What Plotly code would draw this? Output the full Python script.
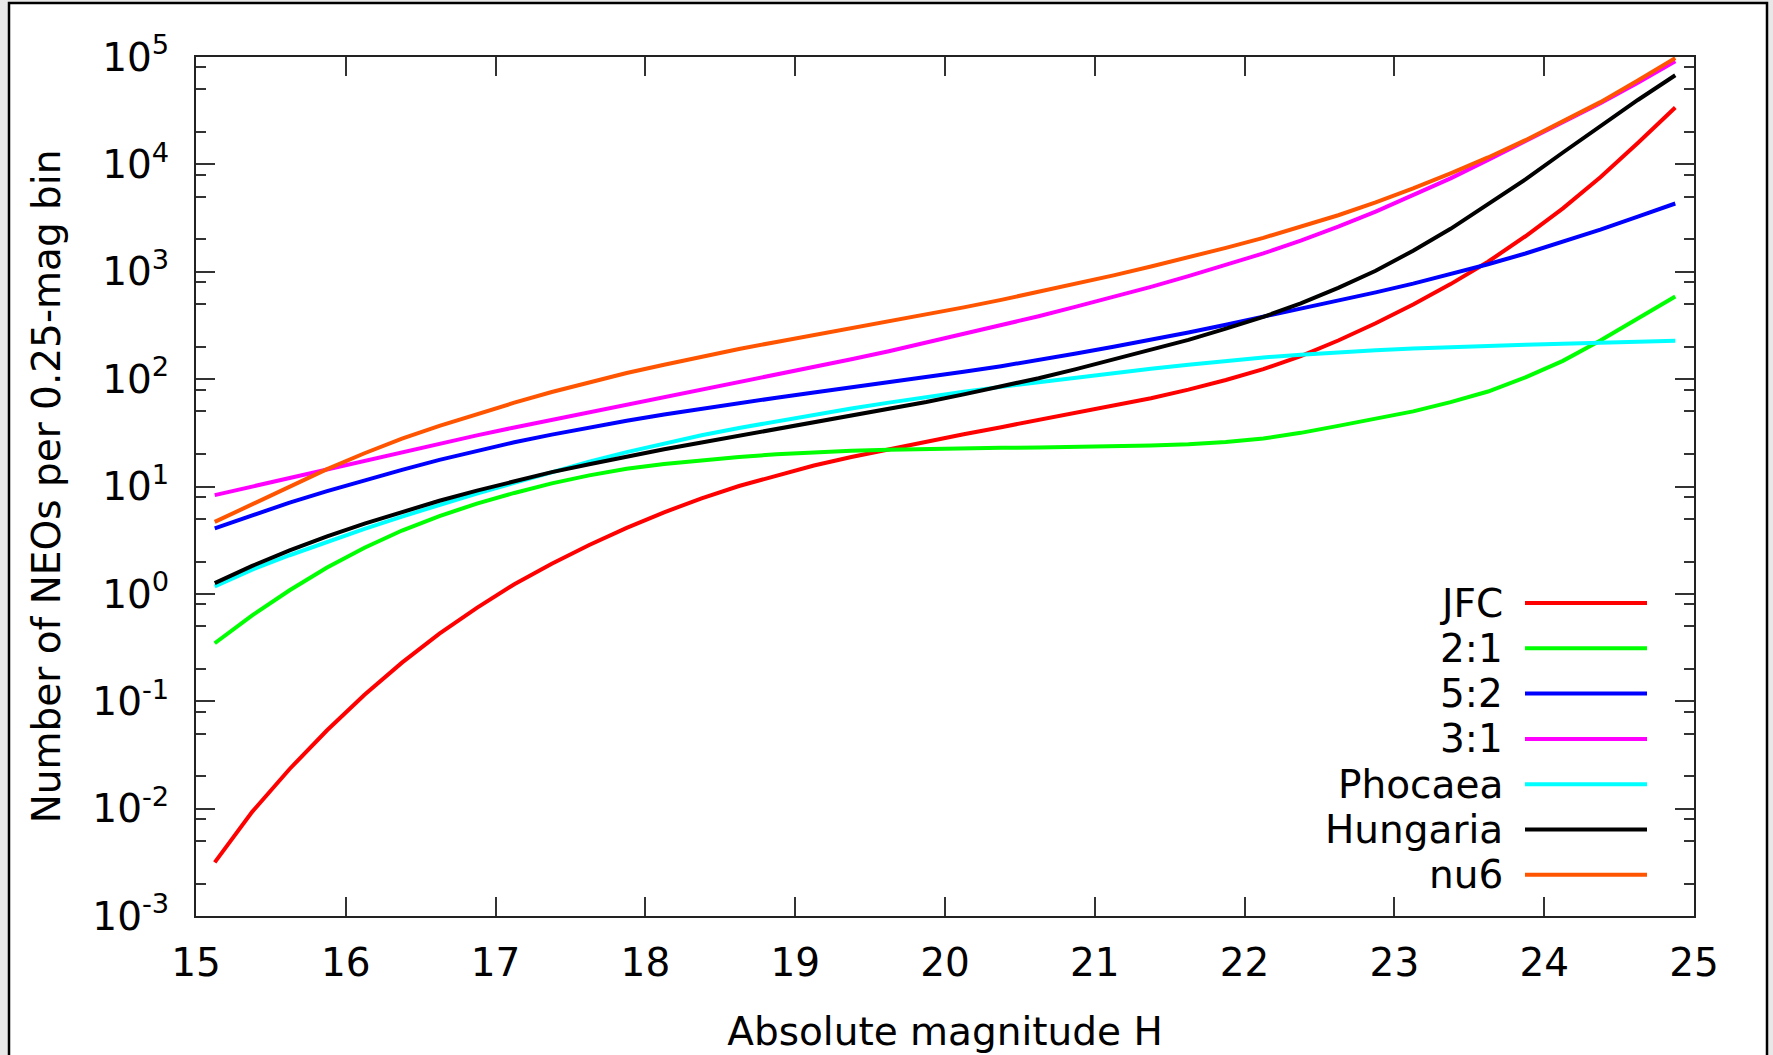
import plotly.graph_objects as go

# Absolute magnitude H (bin centres, 0.25-mag bins)
H = [15.125, 15.375, 15.625, 15.875, 16.125, 16.375, 16.625, 16.875, 17.125, 17.375,
     17.625, 17.875, 18.125, 18.375, 18.625, 18.875, 19.125, 19.375, 19.625, 19.875,
     20.125, 20.375, 20.625, 20.875, 21.125, 21.375, 21.625, 21.875, 22.125, 22.375,
     22.625, 22.875, 23.125, 23.375, 23.625, 23.875, 24.125, 24.375, 24.625, 24.875]

jfc = [0.00316, 0.00933, 0.0234, 0.0537, 0.115, 0.229, 0.427, 0.741, 1.23, 1.91,
       2.85, 4.12, 5.75, 7.76, 10.1, 12.7, 15.7, 18.8, 22.3, 26.2,
       30.7, 35.7, 41.5, 48.2, 56.2, 66.4, 79.8, 98.2, 124, 164,
       229, 331, 495, 767, 1240, 2140, 3890, 7590, 15800, 33900]

res21 = [0.347, 0.631, 1.08, 1.76, 2.69, 3.89, 5.31, 6.92, 8.71, 10.7,
         12.7, 14.6, 16.2, 17.6, 18.8, 20.0, 20.8, 21.5, 22.0, 22.4,
         22.6, 22.9, 23.1, 23.3, 23.7, 24.1, 24.8, 26.0, 28.0, 31.6,
         36.7, 42.7, 50.1, 61.0, 76.7, 104, 148, 229, 367, 589]

res52 = [4.07, 5.43, 7.08, 9.06, 11.5, 14.3, 17.7, 21.5, 25.8, 30.4,
         35.5, 40.9, 46.8, 53.1, 59.8, 67.1, 75.0, 83.6, 93.1, 104,
         117, 132, 150, 173, 200, 232, 272, 321, 380, 451,
         537, 643, 776, 948, 1175, 1480, 1900, 2470, 3260, 4320]

res31 = [8.32, 10.0, 12.0, 14.5, 17.4, 20.9, 25.1, 29.9, 35.5, 41.7,
         49.0, 57.5, 67.6, 79.4, 93.3, 110, 129, 153, 182, 219,
         263, 316, 385, 473, 582, 724, 912, 1150, 1480, 1950,
         2630, 3630, 5130, 7410, 11000, 16400, 24500, 37200, 57500, 91200]

phocaea = [1.17, 1.68, 2.29, 3.05, 4.03, 5.25, 6.76, 8.61, 10.8, 13.6,
           17.0, 20.9, 25.2, 30.0, 35.1, 40.6, 46.6, 53.2, 60.4, 68.1,
           76.2, 84.7, 93.8, 104, 114, 125, 136, 148, 159, 169,
           178, 186, 193, 199, 204, 209, 213, 219, 224, 228]

hungaria = [1.26, 1.82, 2.54, 3.43, 4.52, 5.82, 7.36, 9.16, 11.2, 13.6,
            16.1, 19.0, 22.2, 25.7, 29.6, 34.1, 39.3, 45.3, 52.5, 61.2,
            72.1, 85.1, 102, 124, 152, 186, 232, 295, 380, 507,
            708, 1020, 1570, 2510, 4220, 7240, 12900, 22900, 39800, 67600]

nu6 = [4.68, 6.84, 10.0, 14.5, 20.4, 27.9, 36.7, 47.3, 60.3, 75.9,
       93.3, 114, 136, 162, 191, 222, 257, 297, 344, 399,
       466, 547, 647, 771, 925, 1120, 1360, 1670, 2070, 2610,
       3360, 4430, 5970, 8240, 11600, 16800, 25100, 38000, 60300, 97700]

names = ["JFC", "2:1", "5:2", "3:1", "Phocaea", "Hungaria", "nu6"]
series = [jfc, res21, res52, res31, phocaea, hungaria, nu6]
colors = ["#ff0000", "#00ff00", "#0000ff", "#ff00ff", "#00ffff", "#000000", "#ff5500"]

x_ticks = [15, 16, 17, 18, 19, 20, 21, 22, 23, 24, 25]
y_ticks = [1e-3, 1e-2, 1e-1, 1e0, 1e1, 1e2, 1e3, 1e4, 1e5]
y_ticktext = ["10<sup>-3</sup>", "10<sup>-2</sup>", "10<sup>-1</sup>", "10<sup>0</sup>",
              "10<sup>1</sup>", "10<sup>2</sup>", "10<sup>3</sup>", "10<sup>4</sup>",
              "10<sup>5</sup>"]

FONT = "DejaVu Sans"
FS = 39
W, HGT = 1773, 1055
ML, MR, MT, MB = 196, 79, 57, 139
PW, PH = W - ML - MR, HGT - MT - MB

fig = go.Figure()
for name, ys, col in zip(names, series, colors):
    fig.add_trace(go.Scatter(x=H, y=ys, mode="lines", name=name,
                             line=dict(color=col, width=4), showlegend=False))

minor_y = [m * 10.0 ** k for k in range(-3, 5) for m in (2, 5, 8)]

fig.update_layout(
    width=W, height=HGT,
    margin=dict(l=ML, r=MR, t=MT, b=MB, autoexpand=False),
    paper_bgcolor="#e8e8e8",
    plot_bgcolor="white",
    font=dict(family=FONT, size=FS, color="black"),
    xaxis=dict(
        range=[15, 25], tickvals=x_ticks, ticks="inside", ticklen=19,
        tickwidth=1.5, tickcolor="#333333", showline=True, linecolor="#222222",
        linewidth=2, mirror="ticks", showgrid=False, zeroline=False,
        ticklabelstandoff=11, tickfont=dict(size=FS),
        title=dict(text="Absolute magnitude H", font=dict(size=FS), standoff=34),
    ),
    yaxis=dict(
        type="log", range=[-3, 5], tickvals=y_ticks, ticktext=y_ticktext,
        ticks="inside", ticklen=19, tickwidth=1.5, tickcolor="#333333",
        showline=True, linecolor="#222222", linewidth=2, mirror="ticks",
        showgrid=False, zeroline=False, ticklabelstandoff=17,
        tickfont=dict(size=FS),
        minor=dict(tickvals=minor_y, ticks="inside", ticklen=10,
                   tickwidth=1.5, tickcolor="#333333", showgrid=False),
        title=dict(text="Number of NEOs per 0.25-mag bin", font=dict(size=FS),
                   standoff=20),
    ),
)

# white page box with black border (gnuplot canvas)
def px_x(p):
    return (p - ML) / PW

def px_y(p):
    return (HGT - MB - p) / PH

fig.add_shape(type="rect", xref="paper", yref="paper",
              x0=px_x(9), x1=px_x(1767), y0=px_y(1070), y1=px_y(3),
              line=dict(color="black", width=2.5), fillcolor="white", layer="below")

# legend: right-aligned labels followed by line samples
leg_text_x = px_x(1505)
leg_line_x0, leg_line_x1 = px_x(1525), px_x(1647)
leg_y0 = 603
leg_dy = 45.3
for i, (name, col) in enumerate(zip(names, colors)):
    yy = px_y(leg_y0 + i * leg_dy)
    fig.add_annotation(x=leg_text_x, y=yy, xref="paper", yref="paper",
                       text=name, showarrow=False, xanchor="right", yanchor="middle",
                       font=dict(family=FONT, size=FS, color="black"))
    fig.add_shape(type="line", xref="paper", yref="paper",
                  x0=leg_line_x0, x1=leg_line_x1, y0=yy, y1=yy,
                  line=dict(color=col, width=4))

fig.write_html("out.html")
